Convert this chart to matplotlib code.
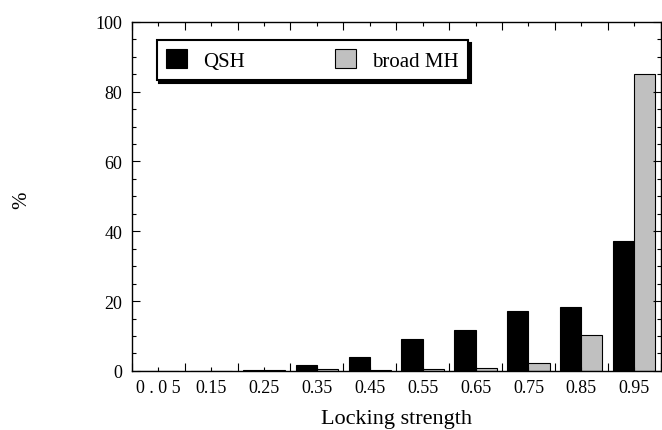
import matplotlib
matplotlib.use("Agg")
import matplotlib.pyplot as plt
import numpy as np
from matplotlib.ticker import MultipleLocator, FixedLocator

categories = ["0 . 0 5", "0.15", "0.25", "0.35", "0.45", "0.55", "0.65", "0.75", "0.85", "0.95"]
qsh = [0.0, 0.0, 0.2, 1.6, 3.9, 9.1, 11.7, 17.1, 18.3, 37.2]
broad_mh = [0.0, 0.0, 0.2, 0.5, 0.3, 0.5, 0.9, 2.2, 10.2, 85.0]

plt.rcParams['font.family'] = ['Liberation Serif', 'DejaVu Serif']

fig = plt.figure(figsize=(6.62, 4.31), dpi=100)
ax = fig.add_axes([0.199, 0.137, 0.799, 0.81])

x = np.arange(len(categories))
w = 0.4
ax.bar(x - w/2, qsh, width=w, color='black', edgecolor='black', linewidth=0.8, label='QSH')
ax.bar(x + w/2, broad_mh, width=w, color='#c0c0c0', edgecolor='black', linewidth=0.8, label='broad MH')

ax.set_xlim(-0.5, len(categories) - 0.5)
ax.set_ylim(0, 100)

ax.xaxis.set_major_locator(FixedLocator(x))
ax.set_xticklabels(categories)
ax.xaxis.set_minor_locator(FixedLocator(np.arange(-0.5, len(categories), 1.0)))
ax.yaxis.set_major_locator(MultipleLocator(20))
ax.yaxis.set_minor_locator(MultipleLocator(5))

ax.tick_params(axis='both', which='both', direction='in', top=True, right=True, labelsize=13)
ax.tick_params(axis='x', which='major', length=3, width=0.8, pad=6)
ax.tick_params(axis='x', which='minor', length=6, width=0.8)
ax.tick_params(axis='y', which='major', length=6, width=0.8, pad=7)
ax.tick_params(axis='y', which='minor', length=3, width=0.8)

for s in ax.spines.values():
    s.set_linewidth(1.0)

ax.set_xlabel('Locking strength', fontsize=16, labelpad=9)
fig.text(22 / 662, 1 - 200 / 431, '%', rotation=90, fontsize=15, ha='center', va='center')

leg = ax.legend(loc='upper left', bbox_to_anchor=(0.047, 0.948), ncol=2,
                fancybox=False, shadow={'color': 'black', 'alpha': 1.0}, frameon=True,
                fontsize=15, handlelength=1.0, handleheight=1.0, columnspacing=4.3,
                borderpad=0.45, handletextpad=0.8, borderaxespad=0)
leg.get_frame().set_edgecolor('black')
leg.get_frame().set_linewidth(1.5)

fig.savefig('out.png', dpi=100)
